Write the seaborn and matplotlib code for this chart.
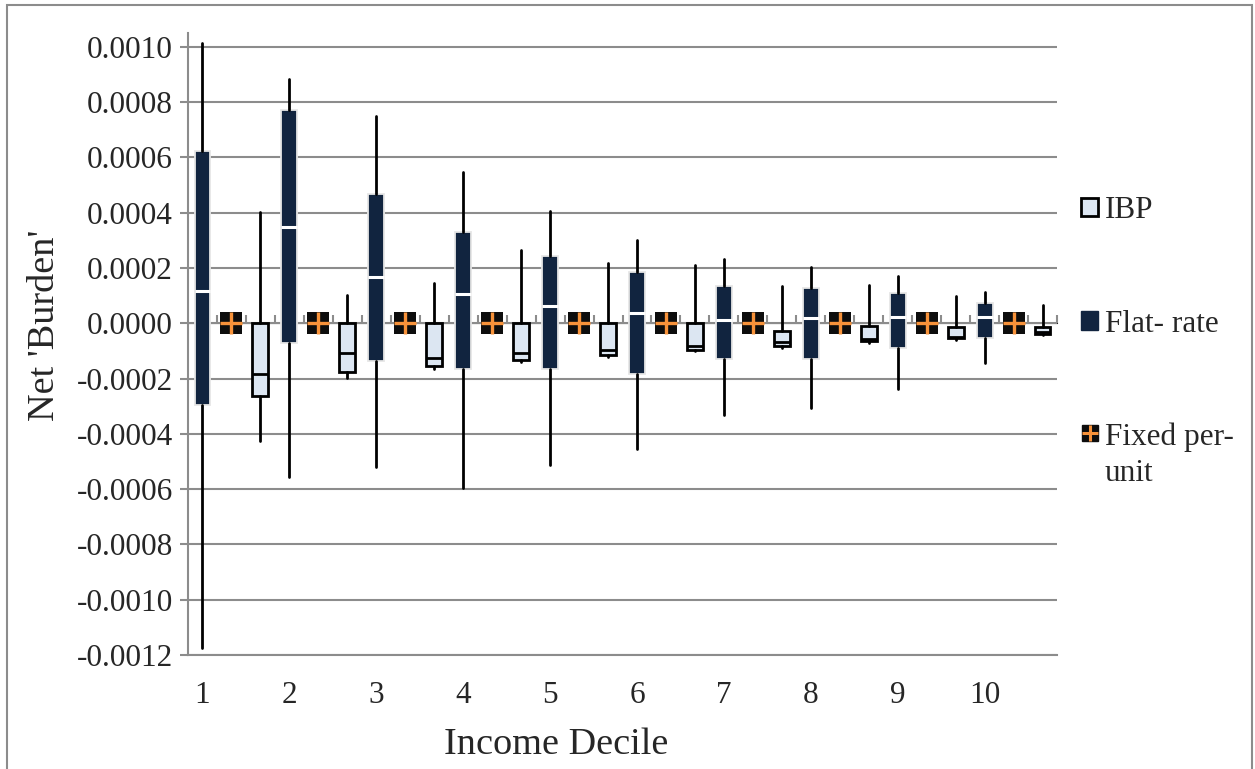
import numpy as np
import pandas as pd
import matplotlib
matplotlib.use("Agg")
import matplotlib.pyplot as plt
import seaborn as sns
from matplotlib.patches import Patch, Rectangle
from matplotlib.lines import Line2D
from matplotlib.legend_handler import HandlerTuple
from matplotlib.ticker import FuncFormatter

# ---------- data ----------
deciles = ["1", "2", "3", "4", "5", "6", "7", "8", "9", "10"]

# Flat-rate
flat_min = [-0.001175, -0.000557, -0.000519, -0.000597, -0.000514, -0.000456, -0.000332, -0.000305, -0.000236, -0.000142]
flat_q1  = [-0.000294, -0.000071, -0.000136, -0.000167, -0.000167, -0.000182, -0.000128, -0.000128, -0.000088, -0.000055]
flat_med = [0.000118, 0.000350, 0.000167, 0.000107, 0.0000625, 0.000036, 0.000011, 0.0000205, 0.000022, 0.000023]
flat_q3  = [0.000622, 0.000772, 0.000467, 0.000331, 0.000242, 0.000185, 0.000136, 0.000128, 0.000110, 0.000075]
flat_max = [0.001014, 0.000883, 0.000750, 0.000546, 0.000405, 0.000302, 0.000234, 0.000203, 0.000171, 0.000112]

# IBP
ibp_min = [-0.000427, -0.000198, -0.000166, -0.000141, -0.000122, -0.000100, -0.000088, -0.000071, -0.000059, -0.000043]
ibp_q1  = [-0.000264, -0.000176, -0.000154, -0.000134, -0.000113, -0.000095, -0.000082, -0.000065, -0.000055, -0.000039]
ibp_med = [-0.000184, -0.000106, -0.000125, -0.000107, -0.000095, -0.000082, -0.000069, -0.000058, -0.000049, -0.000031]
ibp_q3  = [0.0, 0.0, 0.0, 0.0, 0.0, 0.0, -0.000028, -0.000010, -0.0000145, -0.000013]
ibp_max = [0.000401, 0.000101, 0.000146, 0.000264, 0.000219, 0.000212, 0.000136, 0.000140, 0.0000975, 0.000065]

# Fixed per-unit
fixed_val = [0.0, 0.0, 0.0, 0.0, 0.0, 0.0, 0.0, 0.0, 0.0, 0.0]

DARK = "#11243f"
LIGHT = "#dce6f2"
ORANGE = "#f7923a"
GRID = "#8c8c8c"

sns.set_style("white")
plt.rcParams["font.family"] = ["Liberation Serif", "DejaVu Serif"]

fig = plt.figure(figsize=(12.55, 7.69), dpi=100)
ax = fig.add_axes([188 / 1255, 1 - 655 / 769, (1057 - 188) / 1255, (655 - 33) / 769])

n = len(deciles)
pos_flat = np.arange(n) * 3
pos_fixed = pos_flat + 1
pos_ibp = pos_flat + 2


def stats(lo, q1, med, q3, hi):
    return [dict(whislo=a, q1=b, med=c, q3=d, whishi=e, fliers=[])
            for a, b, c, d, e in zip(lo, q1, med, q3, hi)]


wl = dict(color="black", linewidth=2)
ax.bxp(stats(flat_min, flat_q1, flat_med, flat_q3, flat_max), positions=pos_flat,
       widths=0.55, patch_artist=True, showcaps=False, showfliers=False,
       boxprops=dict(facecolor=DARK, edgecolor="#e6e6e6", linewidth=1.3),
       medianprops=dict(color="white", linewidth=2.2),
       whiskerprops=wl, zorder=3)
ax.bxp(stats(ibp_min, ibp_q1, ibp_med, ibp_q3, ibp_max), positions=pos_ibp,
       widths=0.55, patch_artist=True, showcaps=False, showfliers=False,
       boxprops=dict(facecolor=LIGHT, edgecolor="black", linewidth=2),
       medianprops=dict(color="black", linewidth=2),
       whiskerprops=wl, zorder=3)

fixed_df = pd.DataFrame({"pos": pos_fixed, "val": fixed_val})
sns.scatterplot(data=fixed_df, x="pos", y="val", marker="s", s=250, color="#0d0d0d",
                edgecolor="#0d0d0d", linewidth=0, ax=ax, zorder=4)
sns.scatterplot(data=fixed_df, x="pos", y="val", marker="+", s=240, color=ORANGE,
                linewidth=2.4, ax=ax, zorder=5)

# axes
ax.set_xlim(-0.5, 3 * n - 0.5)
ax.set_ylim(-0.0012, 0.00105)
ax.set_yticks(np.arange(-0.0012, 0.00101, 0.0002))
ax.yaxis.set_major_formatter(FuncFormatter(lambda v, p: f"{v:.4f}".replace("-0.0000", "0.0000")))
ax.set_xticks(pos_flat)
ax.set_xticklabels(deciles)
ax.yaxis.grid(True, color=GRID, linewidth=1.5)
ax.set_axisbelow(True)
ax.tick_params(axis="x", length=0, pad=19, labelsize=22.5)
ax.tick_params(axis="y", length=6, width=1.5, color=GRID, direction="out", pad=5, labelsize=22.5,
               left=True)
for s in ["top", "right"]:
    ax.spines[s].set_visible(False)
ax.spines["left"].set_color(GRID)
ax.spines["left"].set_linewidth(1.5)
ax.spines["bottom"].set_color(GRID)
ax.spines["bottom"].set_linewidth(1.5)

# category axis crossing at zero
ylo, yhi = ax.get_ylim()
sec = ax.secondary_xaxis((0 - ylo) / (yhi - ylo))
sec.set_xticks(np.arange(0.5, 3 * n, 1.0))
sec.set_xticklabels([])
sec.tick_params(axis="x", length=6, width=1.5, color=GRID, direction="out")
sec.spines["bottom"].set_color(GRID)
sec.spines["bottom"].set_linewidth(1.5)

ax.set_xlabel("Income Decile", fontsize=27.5)
ax.set_ylabel("Net 'Burden'", fontsize=27.5)
ax.xaxis.set_label_coords((556 - 188) / 869, -(745 - 655) / 622)
ax.yaxis.set_label_coords((45 - 188) / 869, (655 - 325) / 622)
ax.xaxis.label.set_va("center")
ax.yaxis.label.set_va("center")


# legend marker for the two-line entry sits beside the first line
class FirstLineTuple(HandlerTuple):
    def create_artists(self, legend, orig_handle, xdescent, ydescent, width, height,
                       fontsize, trans):
        return super().create_artists(legend, orig_handle, xdescent, ydescent - 33,
                                      width, height, fontsize, trans)


handles = [
    Patch(facecolor=LIGHT, edgecolor="black", linewidth=2),
    Patch(facecolor=DARK, edgecolor=DARK),
    (Line2D([], [], marker="s", color="#0d0d0d", markersize=12, linestyle="none"),
     Line2D([], [], marker="+", color=ORANGE, markersize=12, markeredgewidth=2.2, linestyle="none")),
]
labels = ["IBP", "Flat- rate", "Fixed per-\nunit"]
leg = fig.legend(handles, labels, loc="upper left", bbox_to_anchor=(1053 / 1255, 1 - 168 / 769),
                 frameon=False, fontsize=22.5, handlelength=0.55, handleheight=0.55,
                 handletextpad=0.2, labelspacing=2.7,
                 handler_map={tuple: FirstLineTuple(ndivide=1)})
for t in leg.get_texts():
    t.set_linespacing(1.3)

# chart area border
fig.add_artist(Rectangle((7 / 1255, -0.1), (1252 - 7) / 1255, 1.1 - 5 / 769,
                         transform=fig.transFigure, fill=False, edgecolor="#8c8c8c",
                         linewidth=1.5))

fig.savefig("out.png", dpi=100)
